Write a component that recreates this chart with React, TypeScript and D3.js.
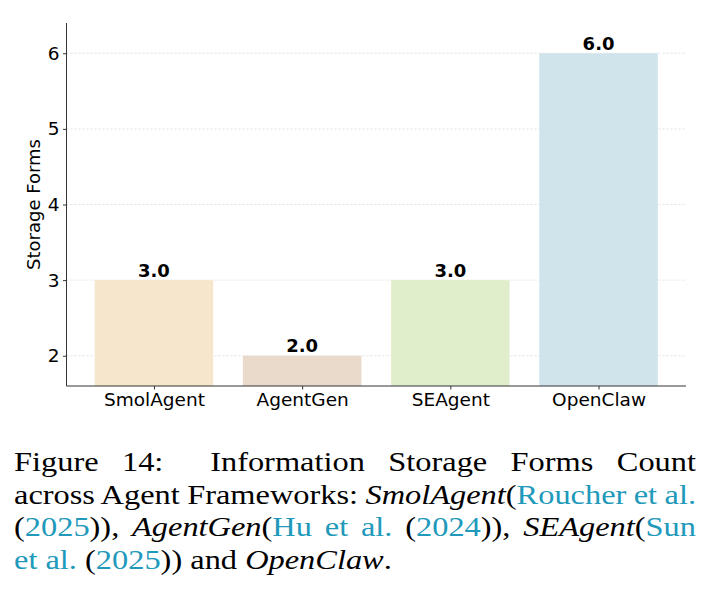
import { useRef, useEffect } from "react";
import * as d3 from "d3";

// Chart data
const frameworks = ["SmolAgent", "AgentGen", "SEAgent", "OpenClaw"];
const storageForms = [3, 2, 3, 6];
const barColors = ["#f5e6cc", "#e9dacb", "#e1eecc", "#cfe4eb"];
const yTicks = [2, 3, 4, 5, 6];

// Caption text, split into runs (link = citation colour, i = italic)
type Run = { t: string; link?: boolean; i?: boolean };
const captionLines: Run[][] = [
  [{ t: "Figure 14:  Information Storage Forms Count" }],
  [
    { t: "across Agent Frameworks: " },
    { t: "SmolAgent", i: true },
    { t: "(" },
    { t: "Roucher et al.", link: true },
  ],
  [
    { t: "(" },
    { t: "2025", link: true },
    { t: ")), " },
    { t: "AgentGen", i: true },
    { t: "(" },
    { t: "Hu et al.", link: true },
    { t: " (" },
    { t: "2024", link: true },
    { t: ")), " },
    { t: "SEAgent", i: true },
    { t: "(" },
    { t: "Sun", link: true },
  ],
  [
    { t: "et al.", link: true },
    { t: " (" },
    { t: "2025", link: true },
    { t: ")) and " },
    { t: "OpenClaw", i: true },
    { t: "." },
  ],
];
const justified = [true, true, true, false];

const W = 715;
const H = 592;
const LINK = "#2199ba";

export default function App() {
  const svgRef = useRef<SVGSVGElement>(null);
  const lineRefs = useRef<(SVGTextElement | null)[]>([]);

  const captionLeft = 14;
  const captionRight = 696;
  const captionTop = 471;
  const lineStep = 32.7;
  const stretch = 1.2; // Liberation Serif is narrower than Computer Modern

  useEffect(() => {
    if (!svgRef.current) return;
    const margin = { top: 23, right: 29, bottom: 206, left: 66.5 };
    const innerWidth = W - margin.left - margin.right;
    const innerHeight = H - margin.top - margin.bottom;

    const svg = d3.select(svgRef.current);
    svg.select(".plot").remove();

    const g = svg
      .append("g")
      .attr("class", "plot")
      .attr("transform", `translate(${margin.left},${margin.top})`);

    const x = d3
      .scaleLinear()
      .domain([-0.59, frameworks.length - 1 + 0.59])
      .range([0, innerWidth]);
    const y = d3.scaleLinear().domain([1.6, 6.4]).range([innerHeight, 0]);
    const barW = x(0.8) - x(0);

    // Grid
    g.append("g")
      .selectAll("line")
      .data(yTicks)
      .join("line")
      .attr("x1", 0)
      .attr("x2", innerWidth)
      .attr("y1", (d) => y(d))
      .attr("y2", (d) => y(d))
      .attr("stroke", "#dcdcdc")
      .attr("stroke-width", 0.8)
      .attr("stroke-dasharray", "2,2");

    // Bars
    g.append("g")
      .selectAll("rect")
      .data(storageForms)
      .join("rect")
      .attr("x", (_, i) => x(i) - barW / 2)
      .attr("width", barW)
      .attr("y", (d) => y(d))
      .attr("height", (d) => innerHeight - y(d))
      .attr("fill", (_, i) => barColors[i]);

    // Value labels
    g.append("g")
      .selectAll("text")
      .data(storageForms)
      .join("text")
      .attr("x", (_, i) => x(i))
      .attr("y", (d) => y(d) - 3.5)
      .attr("text-anchor", "middle")
      .attr("font-family", "DejaVu Sans")
      .attr("font-weight", "bold")
      .attr("font-size", 18)
      .attr("fill", "#000")
      .text((d) => d.toFixed(1));

    // Y axis
    const yAxis = g
      .append("g")
      .call(
        d3
          .axisLeft(y)
          .tickValues(yTicks)
          .tickSize(3.5)
          .tickPadding(3.5)
          .tickFormat((d) => String(d))
      );
    yAxis.select(".domain").attr("d", `M0,0V${innerHeight}`);

    // X axis
    const xAxis = g
      .append("g")
      .attr("transform", `translate(0,${innerHeight})`)
      .call(
        d3
          .axisBottom(x)
          .tickValues(frameworks.map((_, i) => i))
          .tickSize(3.5)
          .tickPadding(3.5)
          .tickFormat((d) => frameworks[d as number])
      );
    xAxis.select(".domain").attr("d", `M0,0H${innerWidth}`);

    for (const ax of [yAxis, xAxis]) {
      ax.attr("font-family", "DejaVu Sans").attr("font-size", 18.5);
      ax.select(".domain").attr("stroke", "#333").attr("stroke-width", 1);
      ax.selectAll(".tick line").attr("stroke", "#333");
      ax.selectAll(".tick text").attr("fill", "#000");
    }

    // Y label
    g.append("text")
      .attr("transform", `translate(${33 - margin.left},${y(4)}) rotate(-90)`)
      .attr("text-anchor", "middle")
      .attr("dominant-baseline", "central")
      .attr("font-family", "DejaVu Sans")
      .attr("font-size", 18)
      .attr("fill", "#000")
      .text("Storage Forms");

    // Justify caption lines with word spacing
    const target = (captionRight - captionLeft) / stretch;
    lineRefs.current.forEach((el, i) => {
      if (!el || !justified[i]) return;
      el.setAttribute("word-spacing", "0");
      const natural = el.getComputedTextLength();
      const spaces = (el.textContent || "").split(" ").length - 1;
      if (spaces > 0) {
        const extra = (target - natural) / spaces;
        el.setAttribute("word-spacing", String(extra));
      }
    });
  }, []);

  return (
    <svg
      ref={svgRef}
      width={W}
      height={H}
      style={{ position: "absolute", left: 0, top: 0, background: "#fff" }}
    >
      {captionLines.map((runs, li) => (
        <text
          key={li}
          ref={(el) => {
            lineRefs.current[li] = el;
          }}
          transform={`translate(${captionLeft},${captionTop + li * lineStep}) scale(${stretch},1)`}
          fontFamily="Liberation Serif"
          fontSize={27}
          fill="#000"
          style={{ whiteSpace: "pre" }}
        >
          {runs.map((r, ri) => (
            <tspan
              key={ri}
              fill={r.link ? LINK : "#000"}
              fontStyle={r.i ? "italic" : "normal"}
            >
              {r.t}
            </tspan>
          ))}
        </text>
      ))}
    </svg>
  );
}
